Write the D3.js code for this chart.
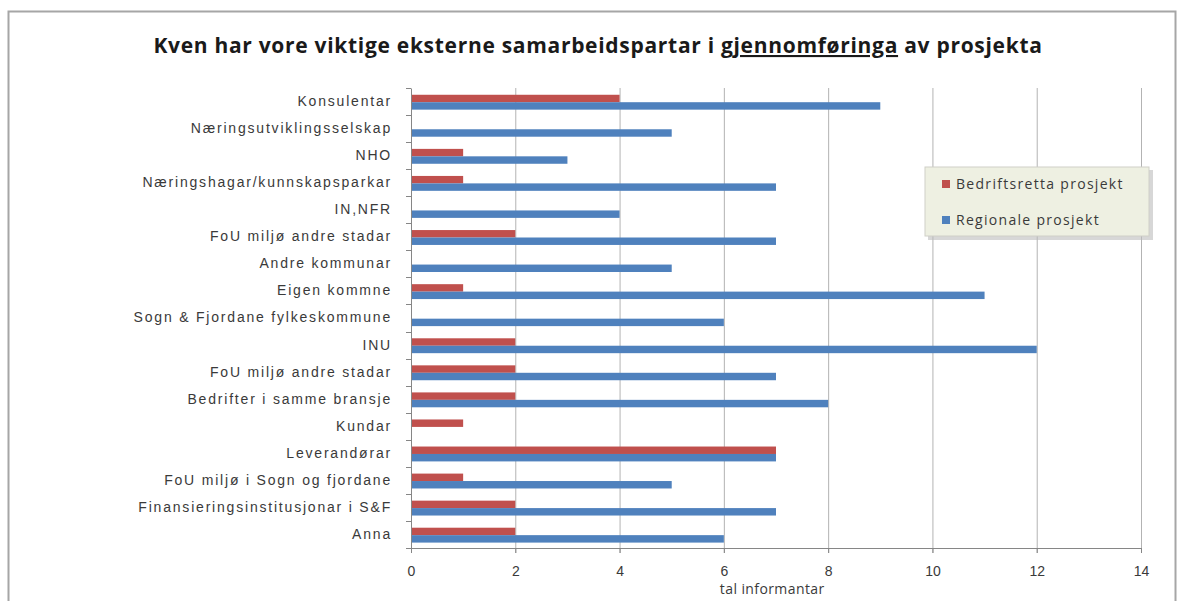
<!DOCTYPE html>
<html>
<head>
<meta charset="utf-8">
<script src="https://cdn.jsdelivr.net/npm/d3@7"></script>
<style>
  body { margin: 0; background: #fff; }
  svg { font-family: "Open Sans", "Noto Sans", sans-serif; }
</style>
</head>
<body>
<svg id="chart" width="1180" height="601"></svg>
<script>
// categories top to bottom
var categories = [
  "Konsulentar",
  "Næringsutviklingsselskap",
  "NHO",
  "Næringshagar/kunnskapsparkar",
  "IN,NFR",
  "FoU miljø andre stadar",
  "Andre kommunar",
  "Eigen kommne",
  "Sogn & Fjordane fylkeskommune",
  "INU",
  "FoU miljø andre stadar",
  "Bedrifter i samme bransje",
  "Kundar",
  "Leverandørar",
  "FoU miljø i Sogn og fjordane",
  "Finansieringsinstitusjonar i S&F",
  "Anna"
];
var bedriftsretta = [4, 0, 1, 1, 0, 2, 0, 1, 0, 2, 2, 2, 1, 7, 1, 2, 2];
var regionale = [9, 5, 3, 7, 4, 7, 5, 11, 6, 12, 7, 8, 0, 7, 5, 7, 6];
var seriesNames = ["Bedriftsretta prosjekt", "Regionale prosjekt"];
var seriesColors = ["#c0504d", "#4f81bd"];
var xTicks = [0, 2, 4, 6, 8, 10, 12, 14];

var svg = d3.select("svg"),
  margin = { top: 88, right: 39, bottom: 53, left: 411 },
  width = +svg.attr("width") - margin.left - margin.right,
  height = +svg.attr("height") - margin.top - margin.bottom;

// outer chart frame
svg.append("rect")
  .attr("x", 8.5).attr("y", 11.5)
  .attr("width", 1167).attr("height", 600)
  .attr("fill", "#fff")
  .attr("stroke", "#a6a6a6")
  .attr("stroke-width", 2);

svg.append("text")
  .attr("x", 598).attr("y", 53)
  .attr("text-anchor", "middle")
  .attr("font-size", 21)
  .attr("font-weight", "bold")
  .attr("fill", "#1a1a1a")
  .attr("letter-spacing", "0.7")
  .call(function (t) {
    t.append("tspan").text("Kven har vore viktige eksterne samarbeidspartar i ");
    t.append("tspan").attr("text-decoration", "underline").text("gjennomføringa");
    t.append("tspan").text(" av prosjekta");
  });

var g = svg.append("g")
  .attr("transform", "translate(" + margin.left + "," + margin.top + ")");

var x = d3.scaleLinear().domain([0, 14]).range([0, width]);
var y = d3.scaleBand().domain(d3.range(categories.length)).range([0, height]);
var inner = d3.scaleBand().domain([0, 1]).range([y.bandwidth() * 0.25, y.bandwidth() * 0.8]);

// gridlines
g.selectAll(".grid")
  .data(xTicks.slice(1))
  .enter().append("line")
  .attr("class", "grid")
  .attr("x1", function (d) { return x(d) + 0.5; })
  .attr("x2", function (d) { return x(d) + 0.5; })
  .attr("y1", 0).attr("y2", height + 5)
  .attr("stroke", "#b3b3b3");

var rows = categories.map(function (c, i) {
  return { i: i, vals: [bedriftsretta[i], regionale[i]] };
});

var row = g.selectAll(".row")
  .data(rows)
  .enter().append("g")
  .attr("transform", function (d) { return "translate(0," + y(d.i) + ")"; });

row.selectAll("rect")
  .data(function (d) { return d.vals; })
  .enter().append("rect")
  .attr("x", 0)
  .attr("y", function (d, j) { return inner(j); })
  .attr("height", inner.bandwidth())
  .attr("width", function (d) { return x(d) - x(0); })
  .attr("fill", function (d, j) { return seriesColors[j]; });

// y axis
var yAxis = g.append("g")
  .call(d3.axisLeft(y).tickSize(0).tickPadding(19).tickFormat(function (i) { return categories[i]; }));
yAxis.select(".domain").attr("stroke", "#868686");
yAxis.selectAll("text")
  .attr("font-size", 14)
  .attr("letter-spacing", "1.8")
  .attr("fill", "#3a3a3a");
g.selectAll(".ytick")
  .data(d3.range(categories.length + 1))
  .enter().append("line")
  .attr("x1", -5).attr("x2", 0)
  .attr("y1", function (i) { return Math.round(i * y.step()) + 0.5; })
  .attr("y2", function (i) { return Math.round(i * y.step()) + 0.5; })
  .attr("stroke", "#868686");

// x axis
var xAxis = g.append("g")
  .attr("transform", "translate(0," + height + ")")
  .call(d3.axisBottom(x).tickValues(xTicks).tickSize(5).tickPadding(13));
xAxis.select(".domain").attr("stroke", "#868686");
xAxis.selectAll("line").attr("stroke", "#868686");
xAxis.selectAll("text").attr("font-size", 14).attr("fill", "#3a3a3a");

g.append("text")
  .attr("x", x(6) - 4).attr("y", height + 46)
  .attr("font-size", 14)
  .attr("letter-spacing", "0.4")
  .attr("fill", "#3a3a3a")
  .text("tal informantar");

// legend
var lg = svg.append("g").attr("transform", "translate(925,167)");
lg.append("rect")
  .attr("x", 3).attr("y", 3).attr("width", 225).attr("height", 70)
  .attr("fill", "#bdbdbd").attr("opacity", 0.6);
lg.append("rect")
  .attr("width", 224).attr("height", 69)
  .attr("fill", "#eef0e2").attr("stroke", "#d0d0c8");
seriesNames.forEach(function (s, j) {
  lg.append("rect")
    .attr("x", 17).attr("y", 13 + j * 36)
    .attr("width", 8).attr("height", 8)
    .attr("fill", seriesColors[j]);
  lg.append("text")
    .attr("x", 31).attr("y", 22 + j * 36)
    .attr("font-size", 14)
    .attr("letter-spacing", "1.3")
    .attr("fill", "#3a3a3a")
    .text(s);
});
</script>
</body>
</html>
